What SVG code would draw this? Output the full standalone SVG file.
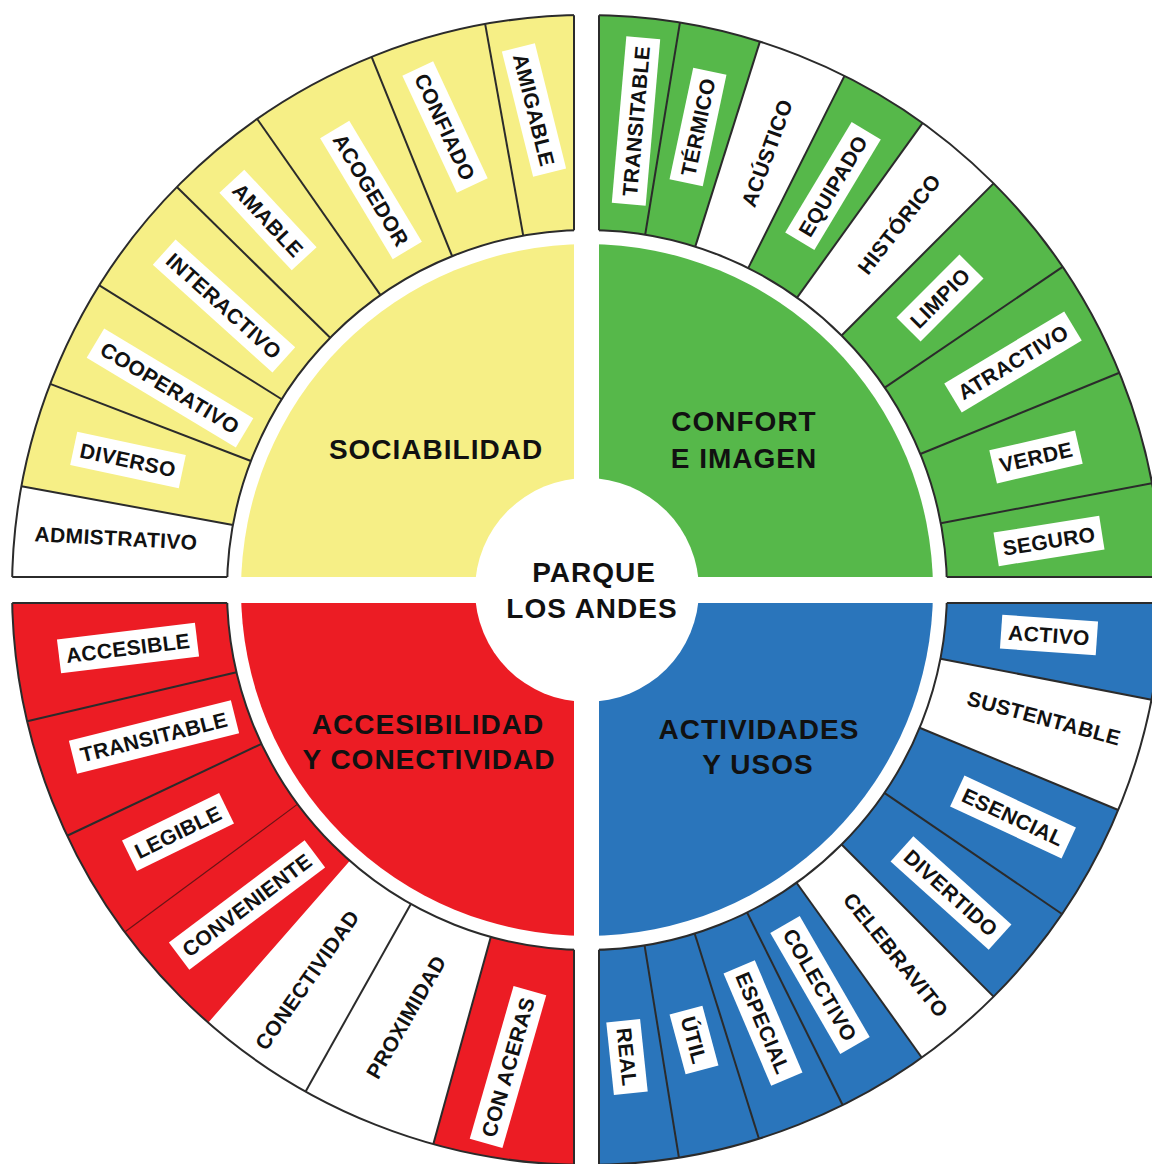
<svg xmlns="http://www.w3.org/2000/svg" width="1152" height="1164" viewBox="0 0 1152 1164">
<style>
.ln{stroke:#2b2b2b;stroke-width:2;fill:none}
.seg{fill:none;stroke-width:215}
.t{font-family:"Liberation Sans",Arial,sans-serif;font-weight:bold;fill:#111}
.lab{font-size:21px;letter-spacing:0.4px;text-anchor:middle}
.ttl{font-size:28px;letter-spacing:1px;text-anchor:middle}
.box{fill:#fff}
</style>
<rect width="1152" height="1164" fill="#fff"/>
<g id="rings">
  <path id="ring-tl" d="M12,590 A575,575 0 0 1 587,15 L587,230 A360,360 0 0 0 227,590 Z" fill="#F6EF86"/>
  <path id="ring-tr" d="M587,15 A575,575 0 0 1 1162,590 L947,590 A360,360 0 0 0 587,230 Z" fill="#56B84A"/>
  <path id="ring-br" d="M1162,590 A575,575 0 0 1 587,1165 L587,950 A360,360 0 0 0 947,590 Z" fill="#2A75BB"/>
  <path id="ring-bl" d="M587,1165 A575,575 0 0 1 12,590 L227,590 A360,360 0 0 0 587,950 Z" fill="#EC1C24"/>
  <g stroke="#fff" class="seg">
    <circle cx="587" cy="590" r="467.5" transform="rotate(180 587 590)" stroke-dasharray="84.86 3000"/>
    <circle cx="587" cy="590" r="467.5" transform="rotate(287.5 587 590)" stroke-dasharray="74.25 3000"/>
    <circle cx="587" cy="590" r="467.5" transform="rotate(305.7 587 590)" stroke-dasharray="75.88 3000"/>
    <circle cx="587" cy="590" r="467.5" transform="rotate(11 587 590)" stroke-dasharray="93.83 3000"/>
    <circle cx="587" cy="590" r="467.5" transform="rotate(45 587 590)" stroke-dasharray="76.70 3000"/>
    <circle cx="587" cy="590" r="467.5" transform="rotate(105.5 587 590)" stroke-dasharray="209.70 3000"/>
  </g>
</g>
<g id="connectors">
  <g class="ln">
    <line x1="947" y1="590" x2="1162" y2="590" transform="rotate(190.4 587 590)"/>
    <line x1="947" y1="590" x2="1162" y2="590" transform="rotate(201 587 590)"/>
    <line x1="947" y1="590" x2="1162" y2="590" transform="rotate(212 587 590)"/>
    <line x1="947" y1="590" x2="1162" y2="590" transform="rotate(224.5 587 590)"/>
    <line x1="947" y1="590" x2="1162" y2="590" transform="rotate(235 587 590)"/>
    <line x1="947" y1="590" x2="1162" y2="590" transform="rotate(248 587 590)"/>
    <line x1="947" y1="590" x2="1162" y2="590" transform="rotate(259.8 587 590)"/>
    <line x1="947" y1="590" x2="1162" y2="590" transform="rotate(279.3 587 590)"/>
    <line x1="947" y1="590" x2="1162" y2="590" transform="rotate(287.5 587 590)"/>
    <line x1="947" y1="590" x2="1162" y2="590" transform="rotate(296.6 587 590)"/>
    <line x1="947" y1="590" x2="1162" y2="590" transform="rotate(305.7 587 590)"/>
    <line x1="947" y1="590" x2="1162" y2="590" transform="rotate(315 587 590)"/>
    <line x1="947" y1="590" x2="1162" y2="590" transform="rotate(325.8 587 590)"/>
    <line x1="947" y1="590" x2="1162" y2="590" transform="rotate(337.8 587 590)"/>
    <line x1="947" y1="590" x2="1162" y2="590" transform="rotate(349.3 587 590)"/>
    <line x1="947" y1="590" x2="1162" y2="590" transform="rotate(11 587 590)"/>
    <line x1="947" y1="590" x2="1162" y2="590" transform="rotate(22.5 587 590)"/>
    <line x1="947" y1="590" x2="1162" y2="590" transform="rotate(34.3 587 590)"/>
    <line x1="947" y1="590" x2="1162" y2="590" transform="rotate(45 587 590)"/>
    <line x1="947" y1="590" x2="1162" y2="590" transform="rotate(54.4 587 590)"/>
    <line x1="947" y1="590" x2="1162" y2="590" transform="rotate(63.6 587 590)"/>
    <line x1="947" y1="590" x2="1162" y2="590" transform="rotate(72.6 587 590)"/>
    <line x1="947" y1="590" x2="1162" y2="590" transform="rotate(80.8 587 590)"/>
    <line x1="947" y1="590" x2="1162" y2="590" transform="rotate(166.8 587 590)"/>
    <line x1="947" y1="590" x2="1162" y2="590" transform="rotate(154.7 587 590)"/>
    <line x1="947" y1="590" x2="1162" y2="590" transform="rotate(119.3 587 590)"/>
    <line x1="947" y1="590" x2="1162" y2="590" transform="rotate(105.5 587 590)"/>
    <circle cx="587" cy="590" r="575"/>
    <circle cx="587" cy="590" r="360"/>
  </g>
  <line x1="947" y1="590" x2="1162" y2="590" transform="rotate(143.5 587 590)" stroke="#6a1416" stroke-width="1.2"/>
</g>
<g id="center-disks">
  <path id="disk-tl" d="M587,590 L241,590 A346,346 0 0 1 587,244 Z" fill="#F6EF86"/>
  <path id="disk-tr" d="M587,590 L587,244 A346,346 0 0 1 933,590 Z" fill="#56B84A"/>
  <path id="disk-br" d="M587,590 L933,590 A346,346 0 0 1 587,936 Z" fill="#2A75BB"/>
  <path id="disk-bl" d="M587,590 L587,936 A346,346 0 0 1 241,590 Z" fill="#EC1C24"/>
</g>
<g id="cross">
  <rect x="574" y="0" width="25" height="1164" fill="#fff"/>
  <rect x="0" y="577" width="1152" height="26" fill="#fff"/>
  <g class="ln">
    <line x1="12.2" y1="577" x2="227.2" y2="577"/>
    <line x1="574" y1="15.2" x2="574" y2="230.2"/>
    <line x1="599" y1="15.2" x2="599" y2="230.2"/>
    <line x1="946.8" y1="577" x2="1162" y2="577"/>
    <line x1="946.8" y1="603" x2="1162" y2="603"/>
    <line x1="599" y1="949.8" x2="599" y2="1165"/>
    <line x1="12.2" y1="603" x2="227.2" y2="603"/>
    <line x1="574" y1="949.8" x2="574" y2="1165"/>
  </g>
</g>
<g id="hub">
  <circle cx="587" cy="590" r="112" fill="#fff"/>
  <text class="t ttl" x="594" y="582">PARQUE</text>
  <text class="t ttl" x="592" y="618">LOS ANDES</text>
</g>
<g id="titles">
  <text class="t ttl" x="436" y="459">SOCIABILIDAD</text>
  <text class="t ttl" x="744" y="431">CONFORT</text>
  <text class="t ttl" x="744" y="468">E IMAGEN</text>
  <text class="t ttl" x="428" y="734">ACCESIBILIDAD</text>
  <text class="t ttl" x="429" y="769">Y CONECTIVIDAD</text>
  <text class="t ttl" x="759" y="739">ACTIVIDADES</text>
  <text class="t ttl" x="758" y="774">Y USOS</text>
</g>
<g id="labels-sociabilidad">
  <g transform="translate(116 538) rotate(3)"><text class="t lab" y="7.5">ADMISTRATIVO</text></g>
  <g transform="translate(128 460) rotate(12)"><rect class="box" x="-55.5" y="-17" width="111" height="34"/><text class="t lab" y="7.5">DIVERSO</text></g>
  <g transform="translate(170 388) rotate(31)"><rect class="box" x="-87" y="-17" width="174" height="34"/><text class="t lab" y="7.5">COOPERATIVO</text></g>
  <g transform="translate(224 306) rotate(42)"><rect class="box" x="-80.5" y="-17" width="161" height="34"/><text class="t lab" y="7.5">INTERACTIVO</text></g>
  <g transform="translate(268 220) rotate(47)"><rect class="box" x="-53" y="-17" width="106" height="34"/><text class="t lab" y="7.5">AMABLE</text></g>
  <g transform="translate(371 190) rotate(59)"><rect class="box" x="-70.5" y="-17" width="141" height="34"/><text class="t lab" y="7.5">ACOGEDOR</text></g>
  <g transform="translate(445 127) rotate(65)"><rect class="box" x="-64.5" y="-17" width="129" height="34"/><text class="t lab" y="7.5">CONFIADO</text></g>
  <g transform="translate(534 110) rotate(76)"><rect class="box" x="-64.5" y="-17" width="129" height="34"/><text class="t lab" y="7.5">AMIGABLE</text></g>
</g>
<g id="labels-confort">
  <g transform="translate(636 121) rotate(-85)"><rect class="box" x="-83.5" y="-17" width="167" height="34"/><text class="t lab" y="7.5">TRANSITABLE</text></g>
  <g transform="translate(698 127) rotate(-78)"><rect class="box" x="-57" y="-17" width="114" height="34"/><text class="t lab" y="7.5">TÉRMICO</text></g>
  <g transform="translate(767 153) rotate(-70)"><text class="t lab" y="7.5">ACÚSTICO</text></g>
  <g transform="translate(833 186) rotate(-59)"><rect class="box" x="-64.5" y="-17" width="129" height="34"/><text class="t lab" y="7.5">EQUIPADO</text></g>
  <g transform="translate(899 224) rotate(-52)"><text class="t lab" y="7.5">HISTÓRICO</text></g>
  <g transform="translate(940 298) rotate(-45)"><rect class="box" x="-44.5" y="-17" width="89" height="34"/><text class="t lab" y="7.5">LIMPIO</text></g>
  <g transform="translate(1013 362) rotate(-31)"><rect class="box" x="-70" y="-17" width="140" height="34"/><text class="t lab" y="7.5">ATRACTIVO</text></g>
  <g transform="translate(1036 457) rotate(-13)"><rect class="box" x="-44" y="-17" width="88" height="34"/><text class="t lab" y="7.5">VERDE</text></g>
  <g transform="translate(1049 541) rotate(-9)"><rect class="box" x="-53.5" y="-17" width="107" height="34"/><text class="t lab" y="7.5">SEGURO</text></g>
</g>
<g id="labels-actividades">
  <g transform="translate(1049 635) rotate(4)"><rect class="box" x="-48" y="-17" width="96" height="34"/><text class="t lab" y="7.5">ACTIVO</text></g>
  <g transform="translate(1044 718) rotate(15)"><text class="t lab" y="7.5">SUSTENTABLE</text></g>
  <g transform="translate(1013 817) rotate(25)"><rect class="box" x="-61.5" y="-17" width="123" height="34"/><text class="t lab" y="7.5">ESENCIAL</text></g>
  <g transform="translate(951 893) rotate(42)"><rect class="box" x="-66" y="-17" width="132" height="34"/><text class="t lab" y="7.5">DIVERTIDO</text></g>
  <g transform="translate(896 955) rotate(51)"><text class="t lab" y="7.5">CELEBRAVITO</text></g>
  <g transform="translate(820 985) rotate(60)"><rect class="box" x="-70" y="-17" width="140" height="34"/><text class="t lab" y="7.5">COLECTIVO</text></g>
  <g transform="translate(763 1023) rotate(67)"><rect class="box" x="-61" y="-17" width="122" height="34"/><text class="t lab" y="7.5">ESPECIAL</text></g>
  <g transform="translate(694 1040) rotate(75)"><rect class="box" x="-31" y="-17" width="62" height="34"/><text class="t lab" y="7.5">ÚTIL</text></g>
  <g transform="translate(627 1057) rotate(84)"><rect class="box" x="-36.5" y="-17" width="73" height="34"/><text class="t lab" y="7.5">REAL</text></g>
</g>
<g id="labels-accesibilidad">
  <g transform="translate(128 648) rotate(-7)"><rect class="box" x="-69.5" y="-17" width="139" height="34"/><text class="t lab" y="7.5">ACCESIBLE</text></g>
  <g transform="translate(154 737) rotate(-14)"><rect class="box" x="-83.5" y="-17" width="167" height="34"/><text class="t lab" y="7.5">TRANSITABLE</text></g>
  <g transform="translate(178 832) rotate(-26)"><rect class="box" x="-54" y="-17" width="108" height="34"/><text class="t lab" y="7.5">LEGIBLE</text></g>
  <g transform="translate(247 905) rotate(-37)"><rect class="box" x="-85" y="-17" width="170" height="34"/><text class="t lab" y="7.5">CONVENIENTE</text></g>
  <g transform="translate(307 980) rotate(-55)"><text class="t lab" y="7.5">CONECTIVIDAD</text></g>
  <g transform="translate(406 1017) rotate(-60)"><text class="t lab" y="7.5">PROXIMIDAD</text></g>
  <g transform="translate(508 1067) rotate(-74)"><rect class="box" x="-79.5" y="-17" width="159" height="34"/><text class="t lab" y="7.5">CON ACERAS</text></g>
</g>
</svg>
